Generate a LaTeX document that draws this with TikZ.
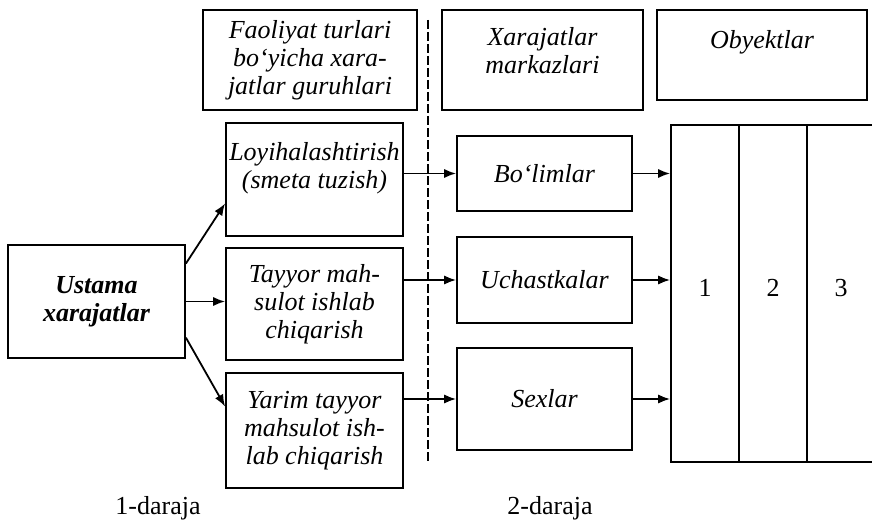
\documentclass[tikz,border=0pt]{standalone}
\usepackage{fontspec}
\setmainfont{Liberation Serif}
\usepackage{tikz}
\usetikzlibrary{arrows.meta,positioning,calc}

\newcommand{\diagfont}{\fontsize{13}{14}\selectfont}

\begin{document}
\begin{tikzpicture}[
    x=0.5pt, y=-0.5pt,
    box/.style={rectangle, draw, line width=0.9pt, align=center, inner sep=1pt, font=\diagfont\itshape},
    level/.style={font=\diagfont},
    arrow/.style={-{Latex[length=6pt, width=4.6pt]}, line width=0.9pt},
    divider/.style={line width=0.9pt, dash pattern=on 4.5pt off 1.5pt}
]
    \useasboundingbox (0,0) rectangle (872,524);

    % --- Level 1: cost groups by activity ---
    \node[box, minimum width=107pt, minimum height=50pt] (grp) at (310,60) {Faoliyat turlari\\bo‘yicha xara-\\jatlar guruhlari};
    \node[box, minimum width=88.5pt, minimum height=56.5pt] (loy) at (314.5,179.5) {Loyihalashtirish\\(smeta tuzish)\\\mbox{}};
    \node[box, minimum width=88.5pt, minimum height=56pt] (tay) at (314.5,304) {Tayyor mah-\\sulot ishlab\\chiqarish};
    \node[box, minimum width=88.5pt, minimum height=57.5pt] (yar) at (314.5,430.5) {Yarim tayyor\\mahsulot ish-\\lab chiqarish};

    % Overheads
    \node[box, font=\diagfont\bfseries\itshape, minimum width=88.5pt, minimum height=56.5pt] (ust) at (96.5,301.5) {Ustama\\xarajatlar};

    \draw[arrow] (ust.23) -- (loy.195);
    \draw[arrow] (ust.east) -- (ust.east -| tay.west);
    \draw[arrow] (ust.-22) -- (yar.165);

    % --- Divider between levels ---
    \coordinate (dtop) at (428,20);
    \coordinate (dbot) at (428,463);
    \draw[divider] (dtop) -- (dbot);

    % --- Level 2: cost centres ---
    \node[box, text depth=10pt, minimum width=100.5pt, minimum height=50pt] (mrk) at (542.5,60) {Xarajatlar\\markazlari};
    \node[box, minimum width=87.5pt, minimum height=37.5pt] (bol) at (544.5,173.5) {Bo‘limlar};
    \node[box, minimum width=87.5pt, minimum height=43pt] (uch) at (544.5,280) {Uchastkalar};
    \node[box, minimum width=87.5pt, minimum height=51pt] (sex) at (544.5,399) {Sexlar};

    \draw[arrow] (loy.east |- bol.west) -- (bol.west);
    \draw[arrow] (tay.east |- uch.west) -- (uch.west);
    \draw[arrow] (yar.east |- sex.west) -- (sex.west);

    % --- Objects ---
    \node[box, text depth=16pt, minimum width=105pt, minimum height=45pt] (obj) at (762,55) {Obyektlar};
    \node[box, minimum width=102pt, minimum height=168.5pt] (blk) at (773,293.5) {};
    \draw[line width=0.9pt] ($(blk.north west)!1/3!(blk.north east)$) -- ($(blk.south west)!1/3!(blk.south east)$);
    \draw[line width=0.9pt] ($(blk.north west)!2/3!(blk.north east)$) -- ($(blk.south west)!2/3!(blk.south east)$);
    \node[level] (o1) at (705,288) {1};
    \node[level] (o2) at (773,288) {2};
    \node[level] (o3) at (841,288) {3};

    \draw[arrow] (bol.east) -- (bol.east -| blk.west);
    \draw[arrow] (uch.east) -- (uch.east -| blk.west);
    \draw[arrow] (sex.east) -- (sex.east -| blk.west);

    % --- Level captions ---
    \node[level] (lv1) at (158,508) {1-daraja};
    \node[level] (lv2) at (550,508) {2-daraja};

\end{tikzpicture}
\end{document}
